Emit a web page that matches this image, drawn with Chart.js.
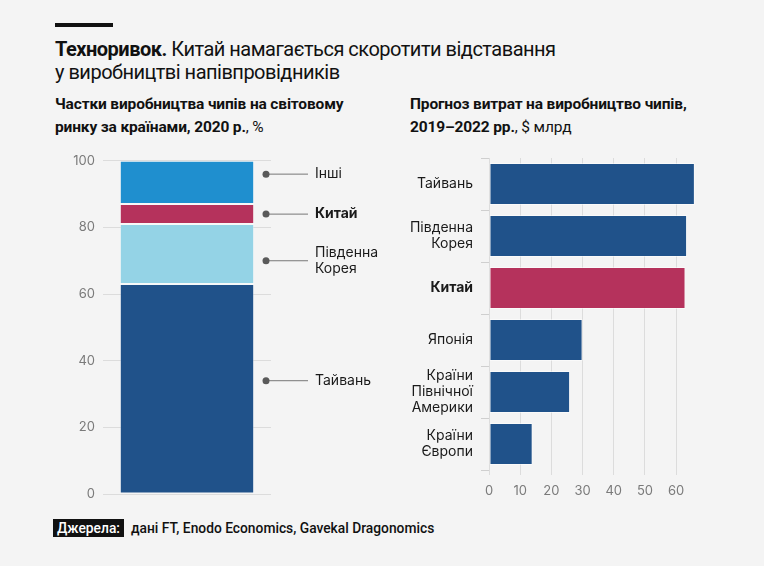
<!DOCTYPE html>
<html>
<head>
<meta charset="utf-8">
<script src="https://cdn.jsdelivr.net/npm/chart.js@4"></script>
<style>
  body { margin: 0; background: #f4f4f4; width: 764px; height: 566px; position: relative; overflow: hidden; font-family: Roboto, sans-serif; color: #111; }
  .rule { position: absolute; left: 55px; top: 23px; width: 58px; height: 4px; background: #111; }
  .title { position: absolute; left: 55px; top: 38px; font-size: 20px; line-height: 23px; letter-spacing: -0.5px; width: 620px; }
  .title b { font-weight: 700; }
  .sub { position: absolute; top: 93px; font-size: 15.5px; line-height: 23px; font-weight: 700; letter-spacing: -0.15px; white-space: nowrap; }
  .sub span { font-weight: 400; }
  .wrap { position: absolute; }
  .foot { position: absolute; left: 53px; top: 519px; font-size: 13.8px; font-weight: 500; display: flex; align-items: center; }
  .foot .tag { background: #111; color: #fff; padding: 1px 4px; margin-right: 7px; }
</style>
</head>
<body>
<div class="rule"></div>
<div class="title"><b>Техноривок.</b> Китай намагається скоротити відставання<br>у виробництві напівпровідників</div>
<div class="sub" style="left:55px">Частки виробництва чипів на світовому<br>ринку за країнами, 2020 р.<span>, %</span></div>
<div class="sub" style="left:410px">Прогноз витрат на виробництво чипів,<br>2019–2022 рр.<span>, $ млрд</span></div>
<div class="wrap" style="left:40px;top:145px;width:340px;height:365px"><canvas id="left"></canvas></div>
<div class="wrap" style="left:390px;top:145px;width:330px;height:365px"><canvas id="right"></canvas></div>
<div class="foot"><span class="tag">Джерела:</span>дані FT, Enodo Economics, Gavekal Dragonomics</div>
<script>
// left: shares of chip production, 2020, %
const shareNames = ['Тайвань', 'Південна Корея', 'Китай', 'Інші'];
const shareValues = [63, 18, 6, 13];
const shareColors = ['#20528a', '#94d3e6', '#b5325c', '#1f8fcf'];
// annotation labels on the right of the stacked bar
const noteLabels = [['Інші'], ['Китай'], ['Південна', 'Корея'], ['Тайвань']];
const noteValues = [96, 84, 70, 34];

// right: spending forecast 2019-2022, $ bn
const spendCountries = ['Тайвань', ['Південна', 'Корея'], 'Китай', 'Японія', ['Країни', 'Північної', 'Америки'], ['Країни', 'Європи']];
const spendValues = [66, 63.5, 63, 30, 26, 14];

Chart.defaults.font.family = 'Inter, sans-serif';
Chart.defaults.animation = false;

const notes = {
  id: 'notes',
  afterDatasetsDraw(chart) {
    const ctx = chart.ctx;
    const y = chart.scales.y;
    const x0 = chart.chartArea.right - 5;
    ctx.save();
    noteValues.forEach((v, i) => {
      const py = y.getPixelForValue(v);
      ctx.strokeStyle = '#777';
      ctx.lineWidth = 1;
      ctx.beginPath();
      ctx.moveTo(x0, py);
      ctx.lineTo(x0 + 42, py);
      ctx.stroke();
      ctx.fillStyle = '#5a5a5a';
      ctx.beginPath();
      ctx.arc(x0, py, 3.5, 0, Math.PI * 2);
      ctx.fill();
      const lines = noteLabels[i];
      ctx.fillStyle = '#1a1a1a';
      ctx.font = (lines[0] === 'Китай' ? '700 ' : '400 ') + '14px Inter, sans-serif';
      ctx.textBaseline = 'middle';
      lines.forEach((t, k) => {
        ctx.fillText(t, x0 + 49, py + (k - (lines.length - 1) / 2) * 16);
      });
    });
    ctx.restore();
  }
};

new Chart(document.getElementById('left'), {
  type: 'bar',
  data: {
    labels: [''],
    datasets: shareNames.map((n, i) => ({
      label: n,
      data: [shareValues[i]],
      backgroundColor: shareColors[i],
      borderColor: 'rgba(255,255,255,0.35)',
      borderWidth: 1,
      borderSkipped: false,
      barPercentage: 0.8,
      categoryPercentage: 1
    }))
  },
  options: {
    responsive: true,
    maintainAspectRatio: false,
    layout: { padding: { top: 15, bottom: 16, right: 109 } },
    plugins: { legend: { display: false }, tooltip: { enabled: false } },
    scales: {
      x: { stacked: true, display: false },
      y: {
        stacked: true, min: 0, max: 100,
        afterFit(s) { s.width = 63; },
        border: { display: false },
        grid: { color: '#dcdcdc', drawTicks: false },
        ticks: { stepSize: 20, padding: 8, color: '#7a7a7a', font: { size: 13 } }
      }
    }
  },
  plugins: [notes]
});

new Chart(document.getElementById('right'), {
  type: 'bar',
  data: {
    labels: spendCountries,
    datasets: [{
      data: spendValues,
      backgroundColor: spendValues.map((v, i) => i === 2 ? '#b5325c' : '#20528a'),
      borderColor: 'rgba(255,255,255,0.5)',
      borderWidth: 1,
      borderSkipped: false,
      barPercentage: 0.81,
      categoryPercentage: 1
    }]
  },
  options: {
    indexAxis: 'y',
    responsive: true,
    maintainAspectRatio: false,
    layout: { padding: { top: 13, right: 22 } },
    plugins: { legend: { display: false }, tooltip: { enabled: false } },
    scales: {
      x: {
        min: 0, max: 67,
        afterFit(s) { s.height = 40; },
        afterBuildTicks(s) { s.ticks = s.ticks.filter(t => t.value % 10 === 0); },
        border: { display: false },
        grid: { color: '#dcdcdc', tickLength: 5 },
        ticks: { stepSize: 10, padding: 8, color: '#7a7a7a', font: { size: 13 } }
      },
      y: {
        afterFit(s) { s.width = 99; s.paddingTop = 0; s.paddingBottom = 0; },
        border: { display: false },
        grid: { drawOnChartArea: false, color: '#cfcfcf', tickLength: 8 },
        ticks: {
          autoSkip: false,
          padding: 8,
          color: '#1a1a1a',
          font: c => ({ size: 14, weight: c.index === 2 ? 'bold' : 'normal', lineHeight: 1.16 })
        }
      }
    }
  }
});
</script>
</body>
</html>
